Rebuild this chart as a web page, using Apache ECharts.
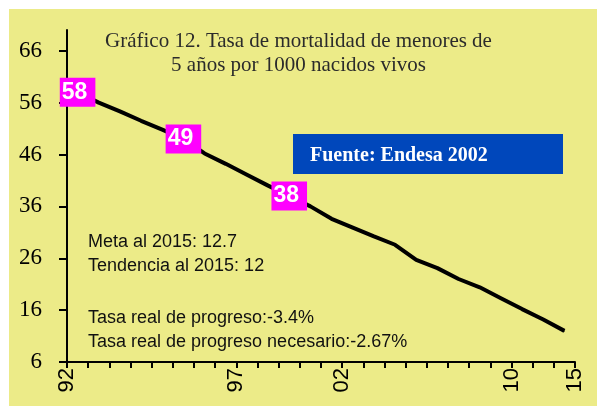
<!DOCTYPE html>
<html>
<head>
	<meta charset="utf-8" />
	<title>Gráfico 12</title>
	<script src="https://cdn.jsdelivr.net/npm/echarts@6.0.0/dist/echarts.min.js"></script>
	<style>
		body { margin: 0; background: #fff; }
	</style>
</head>
<body>
	<!-- contenedor -->
	<div id="main" style="width: 597px;height: 406px;"></div>
	<script type="text/javascript">

		// etiquetas del eje X (una por marca, vacías donde no hay texto)
		var tickLabels = ['92','','','','','','','','97','','','','','02','','','','','','','','10','','','15'];
		// tasa de mortalidad de menores de 5 años (por 1000 nacidos vivos)
		var tasa = [58, 56, 54.3, 52.5, 50.8, 49, 46.2, 44.2, 42.1, 40.0, 38, 36.0, 33.6, 31.9, 30.2, 28.6, 25.7, 24.1, 22.0, 20.4, 18.3, 16.2, 14.2, 12];
		// puntos con etiqueta
		var conEtiqueta = [0, 5, 10];
		var yTicks = [6, 16, 26, 36, 46, 56, 66];

		var myChart = echarts.init(document.getElementById("main"));

		var datos = [];
		for (var i = 0; i < tasa.length; i++) {
			datos.push({
				value: [i + 0.5, tasa[i]],
				label: { show: conEtiqueta.indexOf(i) >= 0 }
			});
		}

		var option = {
			animation: false,
			backgroundColor: '#ECEB88',
			title: {
				text: 'Gráfico 12. Tasa de mortalidad de menores de\n5 años por 1000 nacidos vivos',
				left: 'center',
				top: 29,
				padding: 0,
				textStyle: {
					fontFamily: 'Liberation Serif',
					fontSize: 21,
					fontWeight: 'normal',
					color: '#2b2b2b',
					lineHeight: 24,
					align: 'center'
				}
			},
			grid: {
				left: 67,
				right: 22,
				top: 30,
				bottom: 44
			},
			xAxis: {
				type: 'value',
				min: 0,
				max: 24,
				interval: 1,
				splitLine: { show: false },
				axisLine: { lineStyle: { color: '#000', width: 2 } },
				axisTick: { length: 6, lineStyle: { color: '#000', width: 2 } },
				axisLabel: {
					rotate: 90,
					margin: 6,
					color: '#000',
					fontFamily: 'Liberation Sans',
					fontSize: 22,
					formatter: function (v) {
						return tickLabels[v] || '';
					}
				}
			},
			yAxis: {
				type: 'value',
				min: 6,
				max: 70,
				interval: 10,
				splitLine: { show: false },
				axisLine: { show: true, lineStyle: { color: '#000', width: 2 } },
				axisTick: { show: true, length: 8, customValues: yTicks, lineStyle: { color: '#000', width: 2 } },
				axisLabel: {
					customValues: yTicks,
					margin: 25,
					color: '#000',
					fontFamily: 'Liberation Serif',
					fontSize: 23
				}
			},
			graphic: [
				// bordes blancos
				{ type: 'rect', left: 0, top: 0, shape: { width: 597, height: 9 }, style: { fill: '#fff' }, silent: true },
				{ type: 'rect', left: 0, top: 0, shape: { width: 9, height: 406 }, style: { fill: '#fff' }, silent: true },
				// fuente
				{ type: 'rect', x: 293, y: 134, shape: { width: 270, height: 40 }, style: { fill: '#0047BB' }, silent: true },
				{
					type: 'text', x: 310, y: 156,
					style: {
						text: 'Fuente: Endesa 2002',
						fill: '#fff',
						font: 'bold 20px "Liberation Serif"',
						verticalAlign: 'middle'
					}
				},
				{
					type: 'text', x: 88, y: 230,
					style: {
						text: 'Meta al 2015: 12.7\nTendencia al 2015: 12',
						fill: '#111',
						font: '18px "Liberation Sans"',
						lineHeight: 24
					}
				},
				{
					type: 'text', x: 88, y: 306,
					style: {
						text: 'Tasa real de progreso:-3.4%\nTasa real de progreso necesario:-2.67%',
						fill: '#111',
						font: '18px "Liberation Sans"',
						lineHeight: 24
					}
				}
			],
			series: [
				{
					name: 'Tasa',
					type: 'line',
					data: datos,
					symbol: 'circle',
					symbolSize: 1,
					showAllSymbol: true,
					itemStyle: { color: '#000' },
					lineStyle: { color: '#000', width: 4 },
					label: {
						show: false,
						position: 'inside',
						formatter: function (p) { return String(p.value[1]); },
						color: '#fff',
						fontFamily: 'Liberation Sans',
						fontWeight: 'bold',
						fontSize: 23,
						lineHeight: 22,
						backgroundColor: '#FF00FF',
						padding: [4, 8, 3, 2]
					}
				}
			]
		};

		myChart.setOption(option);

	</script>
</body>
</html>
